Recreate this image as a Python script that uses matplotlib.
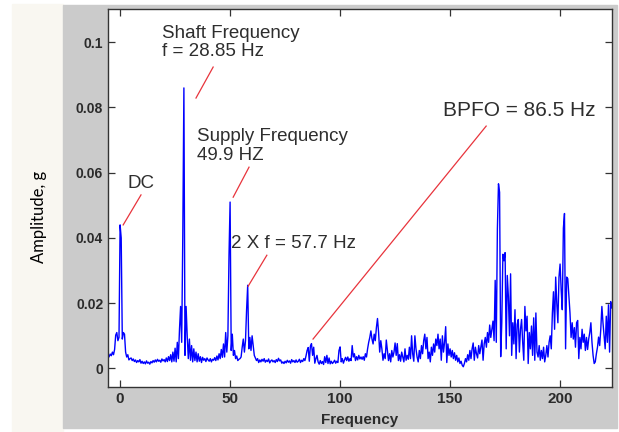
import matplotlib
matplotlib.use("Agg")
import matplotlib.pyplot as plt
import numpy as np
from matplotlib.patches import Rectangle

# spectrum: 0.5 Hz steps starting at -5 Hz, amplitude in milli-g
F_START = -5.0
F_STEP = 0.5
AMP_MG = [
    3.6, 4.4, 3.9, 5.0, 4.2, 5.8, 10.2, 11.0, 8.5, 9.5,        # -5
    44.0, 40.0, 9.0, 11.0, 10.5, 5.0, 3.5, 4.2, 2.6, 3.0,      # 0
    3.2, 2.4, 2.9, 2.1, 2.6, 1.8, 2.4, 2.0, 2.7, 1.6,          # 5
    2.2, 1.5, 2.0, 1.4, 2.3, 1.6, 1.9, 1.3, 2.1, 1.7,          # 10
    2.4, 1.9, 2.6, 2.0, 2.8, 2.2, 2.5, 1.9, 2.9, 2.3,          # 15
    2.7, 2.0, 3.2, 2.1, 3.6, 2.4, 4.2, 2.0, 5.0, 2.2,          # 20
    6.2, 2.0, 8.0, 3.0, 12.0, 19.0, 8.0, 41.0, 86.0, 4.0,      # 25
    19.0, 10.0, 3.0, 9.0, 2.5, 7.0, 2.0, 6.0, 2.4, 5.0,        # 30
    2.0, 4.5, 2.2, 3.6, 1.8, 3.4, 2.5, 3.0, 2.1, 3.2,          # 35
    2.6, 2.2, 3.0, 2.0, 2.8, 2.5, 3.3, 2.4, 3.8, 2.6,          # 40
    4.5, 3.0, 5.8, 3.4, 7.5, 3.5, 11.0, 5.0, 10.0, 34.5,       # 45
    51.0, 5.5, 10.5, 4.0, 5.5, 3.0, 3.8, 2.4, 2.8, 3.0,        # 50
    3.5, 6.5, 9.0, 5.0, 8.5, 18.0, 25.5, 6.0, 9.5, 5.5,        # 55
    10.0, 7.0, 4.0, 3.2, 2.4, 3.0, 1.8, 2.6, 2.0, 2.8,         # 60
    2.2, 3.0, 1.9, 2.5, 2.1, 2.9, 1.7, 2.3, 2.6, 2.0,          # 65
    2.4, 1.8, 2.7, 2.1, 3.1, 2.3, 2.6, 1.6, 2.0, 1.5,          # 70
    2.2, 1.7, 2.5, 1.9, 2.3, 1.6, 2.7, 2.0, 2.4, 1.8,          # 75
    2.6, 1.9, 2.2, 2.8, 1.8, 2.5, 2.1, 3.0, 2.4, 3.8,          # 80
    5.5, 6.4, 2.2, 6.8, 7.6, 4.0, 6.5, 1.6, 3.0, 4.0,          # 85
    2.0, 1.3, 2.4, 1.5, 2.1, 1.2, 3.6, 1.8, 4.0, 1.5,          # 90
    3.2, 1.4, 2.2, 1.5, 1.9, 2.5, 1.6, 2.2, 1.8, 5.5,          # 95
    6.6, 2.0, 3.0, 1.6, 2.6, 3.4, 2.4, 3.5, 2.2, 3.0,          # 100
    2.4, 7.0, 3.5, 4.5, 2.4, 3.6, 2.6, 4.0, 2.9, 3.5,          # 105
    2.8, 3.6, 2.5, 4.5, 3.5, 6.0, 8.0, 9.5, 11.5, 9.0,         # 110
    7.5, 10.5, 8.5, 12.5, 15.3, 11.0, 5.0, 8.5, 6.0, 2.5,      # 115
    4.5, 3.0, 8.7, 5.5, 2.4, 4.5, 2.0, 5.5, 3.5, 5.0,          # 120
    7.8, 4.0, 7.6, 2.4, 4.2, 2.2, 5.0, 3.5, 2.0, 6.0,          # 125
    2.5, 4.0, 2.8, 6.5, 3.0, 10.0, 4.5, 2.2, 10.0, 6.0,        # 130
    3.5, 2.0, 5.5, 3.0, 7.0, 4.5, 8.5, 10.5, 6.0, 9.5,         # 135
    3.0, 5.0, 2.0, 6.5, 4.0, 7.5, 5.0, 9.0, 7.0, 10.5,         # 140
    6.0, 9.0, 2.5, 10.0, 5.0, 8.0, 12.8, 1.8, 7.5, 4.0,        # 145
    6.0, 3.5, 5.5, 3.0, 4.8, 2.5, 4.0, 2.0, 3.2, 1.5,          # 150
    2.2, 1.0, 0.5, 1.5, 3.0, 2.0, 4.2, 2.5, 5.5, 3.0,          # 155
    6.0, 7.8, 2.5, 6.5, 4.5, 3.2, 7.0, 4.5, 6.5, 8.7,          # 160
    2.5, 7.5, 9.5, 6.5, 11.0, 8.0, 13.3, 9.5, 12.0, 14.5,      # 165
    8.5, 27.0, 8.0, 42.8, 56.6, 54.0, 3.6, 14.0, 35.0, 33.0,   # 170
    35.5, 6.0, 28.5, 22.0, 10.0, 29.0, 4.0, 14.0, 7.5, 18.0,   # 175
    3.0, 13.5, 15.0, 5.0, 12.0, 15.0, 8.0, 2.5, 19.0, 11.5,    # 180
    16.0, 1.5, 11.0, 6.0, 13.0, 4.0, 15.5, 2.5, 17.0, 5.0,     # 185
    3.5, 7.0, 2.5, 5.5, 3.0, 6.5, 2.0, 4.0, 7.0, 3.5,          # 190
    8.0, 10.0, 6.0, 17.0, 23.5, 12.0, 28.0, 20.0, 14.0, 28.0,  # 195
    32.0, 24.0, 18.0, 43.0, 47.5, 6.0, 28.0, 27.5, 22.5, 17.0, # 200
    9.5, 14.0, 9.0, 12.5, 6.5, 14.0, 14.7, 3.0, 9.5, 6.0,      # 205
    12.0, 8.0, 10.5, 5.5, 9.5, 5.8, 9.0, 11.0, 14.0, 8.0,      # 210
    4.0, 1.5, 2.0, 4.5, 6.5, 9.6, 7.0, 12.0, 19.0, 14.0,       # 215
    10.0, 6.0, 16.0, 8.0, 19.5, 5.0, 20.5, 18.5, 20.0,         # 220
]

X_TICKS = [0, 50, 100, 150, 200]
Y_TICKS = [0, 0.02, 0.04, 0.06, 0.08, 0.1]
Y_TICK_LABELS = ["0", "0.02", "0.04", "0.06", "0.08", "0.1"]

# (text, text position, line start, line end, font size) in data units
NOTES = [
    ("Shaft Frequency\nf = 28.85 Hz", (19.1, 0.0999), (42.3, 0.0924), (34.5, 0.0829), 13.5),
    ("Supply Frequency\n49.9 HZ", (35.0, 0.0682), (58.6, 0.0617), (51.4, 0.0525), 13.5),
    ("DC", (3.2, 0.0568), (9.5, 0.0532), (1.4, 0.0440), 13.5),
    ("2 X f = 57.7 Hz", (50.5, 0.0384), (66.7, 0.0347), (58.2, 0.0252), 13.5),
    ("BPFO = 86.5 Hz", (146.8, 0.0792), (166.4, 0.0743), (87.7, 0.0090), 15),
]

freq = F_START + F_STEP * np.arange(len(AMP_MG))
amp = np.array(AMP_MG) / 1000.0

fig = plt.figure(figsize=(6.19, 4.32), dpi=100, facecolor="white")
# cream strip + grey MATLAB-style figure panel behind the axes
fig.patches.append(Rectangle((12 / 619, 0), 51 / 619, 428 / 432,
                             transform=fig.transFigure, color="#f9f7f1", zorder=-2))
fig.patches.append(Rectangle((63 / 619, 4 / 432), 554 / 619, 423 / 432,
                             transform=fig.transFigure, color="#cbcbcb", zorder=-1))

ax = fig.add_axes([108 / 619, 45 / 432, 504 / 619, 378 / 432])
ax.set_zorder(2)
ax.set_facecolor("white")
ax.plot(freq, amp, color="#0000ff", lw=1.0)

ax.set_xlim(-5.5, 223.6)
ax.set_ylim(-0.0057, 0.1102)
ax.set_xticks(X_TICKS)
ax.set_yticks(Y_TICKS)
ax.set_yticklabels(Y_TICK_LABELS)
ax.tick_params(direction="in", top=True, right=True, length=5, width=0.9,
               color="#333333", labelcolor="#2b2b2b")
for lbl in ax.get_xticklabels():
    lbl.set_fontfamily("Liberation Sans"); lbl.set_fontweight("bold"); lbl.set_fontsize(11)
for lbl in ax.get_yticklabels():
    lbl.set_fontfamily("Liberation Sans"); lbl.set_fontweight("bold"); lbl.set_fontsize(10)
for s in ax.spines.values():
    s.set_color("#333333"); s.set_linewidth(1.0)

ax.set_xlabel("Frequency", family="Liberation Sans", fontweight="bold", fontsize=11,
              color="#2b2b2b", labelpad=5)

for txt, (tx, ty), p0, p1, fs in NOTES:
    ax.text(tx, ty, txt, family="Liberation Sans", fontsize=fs, color="#2e2e2e",
            ha="left", va="center", linespacing=1.1)
    ax.plot([p0[0], p1[0]], [p0[1], p1[1]], color="#e8343c", lw=0.9)

fig.text(39 / 619, 1 - 217 / 432, "Amplitude, g", family="Lato", fontsize=12,
         rotation=90, ha="center", va="center", color="black")

fig.savefig("out.png", dpi=100, facecolor=fig.get_facecolor())
